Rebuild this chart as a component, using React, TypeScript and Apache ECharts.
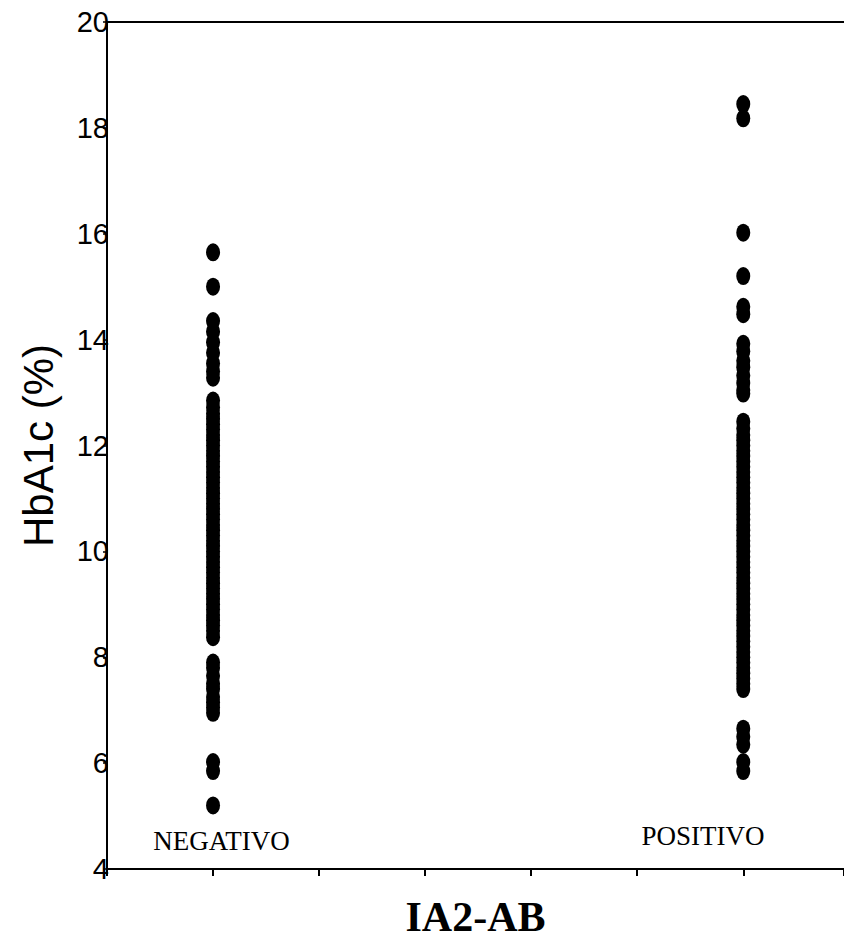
import React, { useEffect, useRef } from "react";
import * as echarts from "echarts";

const categories = ["NEGATIVO", "POSITIVO"];
const categoryX = [1, 6];
const categoryLabelX = [1.08, 5.62];
const categoryLabelY = [4.53, 4.62];
const yTicks = { min: 4, max: 20, interval: 2 };

const negativeValues = [
  15.65, 15.0,
  14.35, 14.15, 13.95, 13.75, 13.55, 13.4, 13.28,
  12.85, 12.72, 12.6, 12.5, 12.4, 12.3, 12.2, 12.1, 12.0, 11.9, 11.8, 11.7, 11.6,
  11.5, 11.4, 11.3, 11.2, 11.1, 11.0, 10.9, 10.8, 10.7, 10.6, 10.5, 10.4, 10.3,
  10.2, 10.1, 10.0, 9.9, 9.8, 9.7, 9.6, 9.5, 9.4, 9.3, 9.2, 9.1, 9.0, 8.9, 8.8,
  8.7, 8.6, 8.5, 8.38,
  7.9, 7.8, 7.65, 7.5, 7.4, 7.25, 7.15, 7.05, 6.95,
  6.02, 5.85,
  5.2,
];

const positiveValues = [
  18.45, 18.18,
  16.02,
  15.2,
  14.62, 14.48,
  13.92, 13.78, 13.6, 13.48, 13.32, 13.18, 13.05, 12.98,
  12.45, 12.32, 12.2, 12.1, 12.0, 11.9, 11.8, 11.7, 11.6, 11.5, 11.4, 11.3, 11.2,
  11.1, 11.0, 10.9, 10.8, 10.7, 10.6, 10.5, 10.4, 10.3, 10.2, 10.1, 10.0, 9.9,
  9.8, 9.7, 9.6, 9.5, 9.4, 9.3, 9.2, 9.1, 9.0, 8.9, 8.8, 8.7, 8.6, 8.5, 8.4, 8.3,
  8.2, 8.1, 8.0, 7.9, 7.8, 7.7, 7.6, 7.5, 7.4,
  6.65, 6.5, 6.35,
  6.02, 5.85,
];

const ELLIPSE = "path://M0 9a7 9 0 1 0 14 0a7 9 0 1 0 -14 0z";

export default function App() {
  const ref = useRef<HTMLDivElement>(null);
  useEffect(() => {
    if (!ref.current) return;
    const chart = echarts.init(ref.current, null, { renderer: "svg" });
    const pointData = [
      ...negativeValues.map((v) => [categoryX[0], v]),
      ...positiveValues.map((v) => [categoryX[1], v]),
    ];
    chart.setOption({
      animation: false,
      backgroundColor: "#ffffff",
      grid: { left: 107, top: 22, right: 0, bottom: 77, containLabel: false },
      xAxis: [
        {
          type: "value",
          min: 0,
          max: 6.95,
          interval: 1,
          position: "bottom",
          name: "IA2-AB",
          nameLocation: "middle",
          nameGap: 27,
          nameTextStyle: {
            fontFamily: "Liberation Serif",
            fontWeight: "bold",
            fontSize: 42,
            color: "#000",
          },
          axisLine: { show: true, onZero: false, lineStyle: { color: "#000", width: 2 } },
          axisTick: { show: true, length: 7, lineStyle: { color: "#000", width: 2 } },
          axisLabel: { show: false },
          splitLine: { show: false },
        },
        {
          type: "value",
          min: 0,
          max: 6.95,
          position: "top",
          axisLine: { show: true, onZero: false, lineStyle: { color: "#000", width: 2 } },
          axisTick: { show: false },
          axisLabel: { show: false },
          splitLine: { show: false },
        },
      ],
      yAxis: {
        type: "value",
        min: yTicks.min,
        max: yTicks.max,
        interval: yTicks.interval,
        name: "HbA1c (%)",
        nameLocation: "middle",
        nameGap: 48,
        nameTextStyle: {
          fontFamily: "Liberation Sans",
          fontSize: 42,
          color: "#000",
        },
        axisLine: { show: true, onZero: false, lineStyle: { color: "#000", width: 2 } },
        axisTick: { show: true, length: 4, lineStyle: { color: "#000", width: 1.5 } },
        axisLabel: {
          margin: -2,
          fontFamily: "Liberation Sans",
          fontSize: 29,
          color: "#000",
        },
        splitLine: { show: false },
      },
      series: [
        {
          type: "scatter",
          xAxisIndex: 0,
          data: pointData,
          symbol: ELLIPSE,
          symbolSize: [14, 18],
          itemStyle: { color: "#000", opacity: 1 },
          emphasis: { disabled: true },
        },
        {
          type: "scatter",
          xAxisIndex: 0,
          data: categories.map((c, i) => ({ value: [categoryLabelX[i], categoryLabelY[i]], name: c })),
          symbolSize: 0,
          itemStyle: { opacity: 1 },
          label: {
            show: true,
            position: "inside",
            formatter: (p: any) => p.name,
            fontFamily: "Liberation Serif",
            fontSize: 27,
            color: "#000",
          },
        },
      ],
    });
    return () => chart.dispose();
  }, []);
  return (
    <div
      ref={ref}
      style={{ position: "fixed", left: 0, top: 0, width: 844, height: 946 }}
    />
  );
}
